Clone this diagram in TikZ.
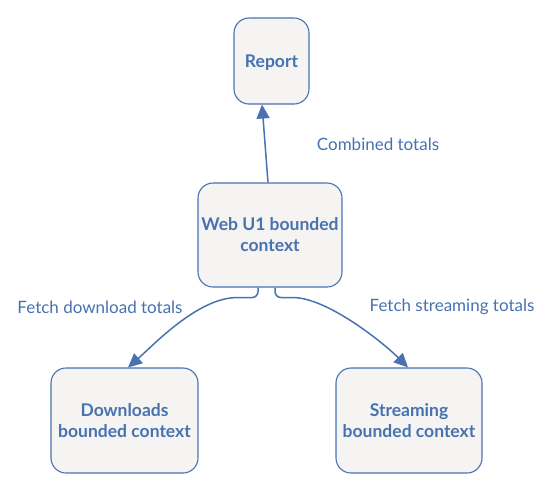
\documentclass[tikz,border=0pt]{standalone}
\usepackage{fontspec}
\setmainfont{Lato}
\usetikzlibrary{arrows.meta}
\definecolor{txtblue}{RGB}{70,114,176}
\definecolor{lineblue}{RGB}{72,114,176}
\definecolor{boxfill}{RGB}{245,244,243}
\tikzset{
  box/.style={draw=lineblue, line width=1.1pt, fill=boxfill, rounded corners=15pt,
    text=txtblue, font=\fontsize{17.5}{21}\selectfont\bfseries, align=center, inner sep=0pt},
  lbl/.style={text=txtblue, font=\fontsize{17}{20}\selectfont, inner sep=0pt},
  arr/.style={draw=lineblue, line width=1.5pt, -{Triangle[length=14pt,width=13pt]}}
}
\begin{document}
\begin{tikzpicture}[x=1pt,y=-1pt]
\useasboundingbox (0,0) rectangle (553,491);
\node[box, minimum width=75pt, minimum height=86pt, text depth=0pt] (report) at (271.5,61) {Report};
\node[box, minimum width=144pt, minimum height=104pt] (web) at (270,235) {Web U1 bounded\\context};
\node[box, minimum width=147pt, minimum height=105pt] (down) at (124.5,420.5) {Downloads\\bounded context};
\node[box, minimum width=146pt, minimum height=105pt] (stream) at (409,420.5) {Streaming\\bounded context};
\node[lbl] (l1) at (378,144) {Combined totals};
\node[lbl] (l2) at (100,307) {Fetch download totals};
\node[lbl] (l3) at (452,307) {Fetch streaming totals};
\draw[arr] ([xshift=-2pt]web.north) -- ([xshift=-9.5pt]report.south);
\draw[arr, rounded corners=6pt] ([xshift=-12pt]web.south) -- ++(0,10) -- ++(-15,0)
  .. controls +(-45,0) and +(25,-22) .. ([xshift=3.5pt]down.north);
\draw[arr, rounded corners=6pt] ([xshift=5pt]web.south) -- ++(0,10) -- ++(12,0)
  .. controls +(40,0) and +(-25,-25) .. ([xshift=-1pt]stream.north);
\end{tikzpicture}
\end{document}
